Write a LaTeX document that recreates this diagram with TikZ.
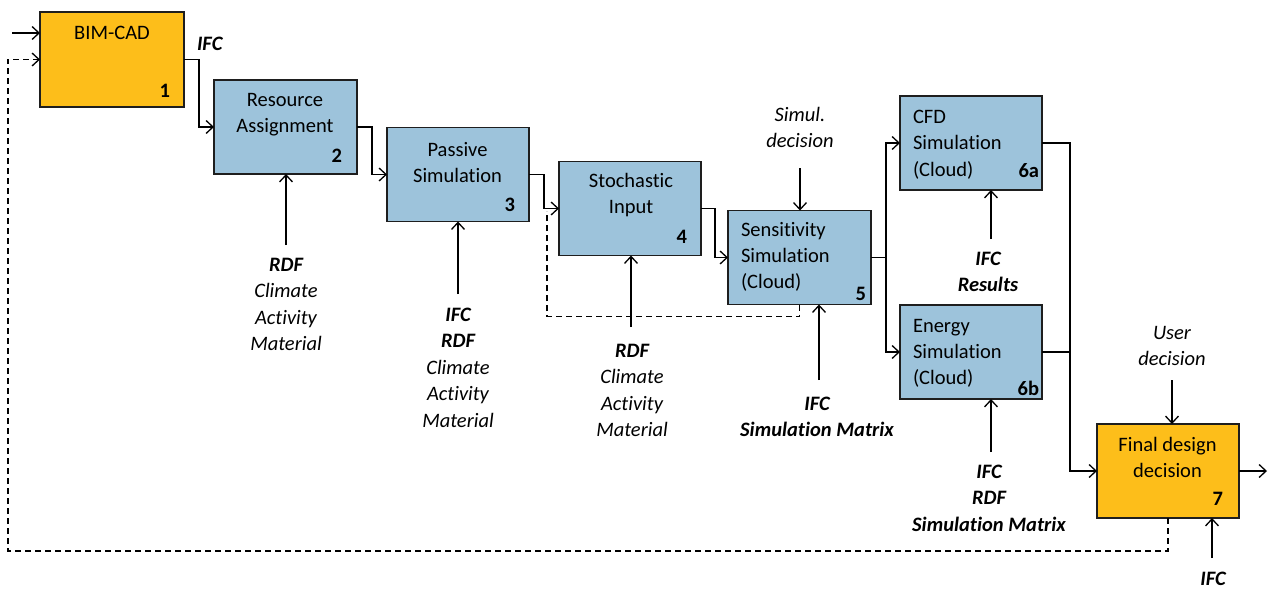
\documentclass[tikz,border=0pt]{standalone}
\usepackage{fontspec}
\setmainfont{Carlito}[Ligatures={NoCommon}]
\usetikzlibrary{arrows.meta}
\definecolor{boxblue}{HTML}{9DC3DB}
\definecolor{boxorange}{HTML}{FDBE1A}
\definecolor{edgegray}{HTML}{1E1E1E}
\begin{document}
\begin{tikzpicture}[x=1pt,y=-1pt,
  every node/.style={inner sep=0pt, outer sep=0pt, font=\fontsize{20.5}{26.4}\selectfont},
  procbox/.style 2 args={draw=edgegray, line width=1.5pt, rectangle, anchor=north west,
     minimum width=#1, minimum height=#2},
  bluebox/.style={fill=boxblue},
  orangebox/.style={fill=boxorange},
  boxtext/.style={anchor=north, align=center},
  boxtextleft/.style={anchor=north west, align=left},
  numtext/.style={anchor=base east, font=\fontsize{20.5}{26.4}\selectfont\bfseries},
  lbl/.style={anchor=north, align=center, font=\fontsize{20.5}{26.4}\selectfont\itshape},
  conn/.style={line width=1.3pt, draw=black},
  arr/.style={conn, -{Straight Barb[length=7pt,width=13pt,line width=1.3pt]}},
  dasharr/.style={arr, dash pattern=on 6pt off 4pt},
  dashconn/.style={conn, dash pattern=on 6pt off 4pt}
]
\useasboundingbox (0,0) rectangle (1269,589);

% boxes
\node[procbox={144pt}{95pt}, orangebox] (b1) at (40,12) {};
\node[procbox={143pt}{94pt}, bluebox] (b2) at (214,80) {};
\node[procbox={142pt}{94pt}, bluebox] (b3) at (387,127.5) {};
\node[procbox={142pt}{94pt}, bluebox] (b4) at (559,161.5) {};
\node[procbox={143pt}{94pt}, bluebox] (b5) at (728,210.5) {};
\node[procbox={142pt}{94pt}, bluebox] (b6a) at (900,96) {};
\node[procbox={142pt}{94pt}, bluebox] (b6b) at (900,305) {};
\node[procbox={142pt}{94pt}, orangebox] (b7) at (1097,424) {};

% box texts
\node[boxtext] (x1) at (112,26) {BIM-CAD};
\node[boxtext] (x2) at (285,93) {Resource\\Assignment};
\node[boxtext] (x3) at (457.5,142) {Passive\\Simulation};
\node[boxtext] (x4) at (631,173) {Stochastic\\Input};
\node[boxtextleft] (x5) at (741,222) {Sensitivity\\Simulation\\(Cloud)};
\node[boxtextleft] (x6a) at (913,110) {CFD\\Simulation\\(Cloud)};
\node[boxtextleft] (x6b) at (913,319) {Energy\\Simulation\\(Cloud)};
\node[boxtext] (x7) at (1167.5,437) {Final design\\decision};

% numbers
\node[numtext] (n1) at (170,97) {1};
\node[numtext] (n2) at (342,162) {2};
\node[numtext] (n3) at (515,211) {3};
\node[numtext] (n4) at (687,243) {4};
\node[numtext] (n5) at (866,300) {5};
\node[numtext] (n6a) at (1039,177) {6a};
\node[numtext] (n6b) at (1039,395) {6b};
\node[numtext] (n7) at (1223,505) {7};

% labels
\node[lbl, anchor=north west] (ifc1) at (197,37) {\bfseries IFC};
\node[lbl] (t2) at (286,258) {\bfseries RDF\\Climate\\Activity\\Material};
\node[lbl] (t3) at (458,308) {\bfseries IFC\\\bfseries RDF\\Climate\\Activity\\Material};
\node[lbl] (t4) at (632,344) {\bfseries RDF\\Climate\\Activity\\Material};
\node[lbl] (t5) at (817,397) {\bfseries IFC\\\bfseries Simulation Matrix};
\node[lbl] (t6a) at (988,252) {\bfseries IFC\\\bfseries Results};
\node[lbl] (t6b) at (989,465) {\bfseries IFC\\\bfseries RDF\\\bfseries Simulation Matrix};
\node[lbl] (t7) at (1213,572) {\bfseries IFC};
\node[lbl] (ts) at (800,107) {Simul.\\decision};
\node[lbl] (tu) at (1172,326) {User\\decision};

% free ends
\coordinate (in1) at (12,33);
\coordinate (out7) at (1267,471);
\coordinate (dl) at (8,551);
\coordinate (dj) at (547,211);
\coordinate (a2) at (286,245);
\coordinate (a3) at (458,294);
\coordinate (a4) at (631,327);
\coordinate (a5) at (819,380);
\coordinate (a6a) at (991,239);
\coordinate (a6b) at (991,452);
\coordinate (a7) at (1212,558);
\coordinate (as) at (800,168);
\coordinate (au) at (1172,380);

% main flow
\draw[arr] (in1) -- (in1 -| b1.west);
\draw[arr] (b1.east) -- ++(15,0) |- (b2.west);
\draw[arr] (b2.east) -- ++(15,0) |- (b3.west);
\draw[arr] (b3.east) -- ++(15,0) |- (b4.west);
\draw[arr] (b4.east) -- ++(14,0) |- (b5.west);
\draw[arr] (b5.east) -- ++(15,0) |- (b6a.west);
\draw[arr] (b5.east) -- ++(15,0) |- (b6b.west);
\draw[conn] (b6a.east) -- ++(28,0) coordinate (m6) -- (m6 |- b6b.east) -- (b6b.east);
\draw[arr] (m6) |- (b7.west);
\draw[arr] (b7.east) -- (out7);

% dashed feedback
\draw[dasharr] (b7.south) |- (dl) |- (b1.west);
\draw[dashconn] (b5.south) -- ++(0,12) -| (dj);

% inputs
\draw[arr] (a2) -- (a2 |- b2.south);
\draw[arr] (a3) -- (a3 |- b3.south);
\draw[arr] (a4) -- (a4 |- b4.south);
\draw[arr] (a5) -- (a5 |- b5.south);
\draw[arr] (a6a) -- (a6a |- b6a.south);
\draw[arr] (a6b) -- (a6b |- b6b.south);
\draw[arr] (a7) -- (a7 |- b7.south);
\draw[arr] (as) -- (as |- b5.north);
\draw[arr] (au) -- (au |- b7.north);
\end{tikzpicture}
\end{document}
